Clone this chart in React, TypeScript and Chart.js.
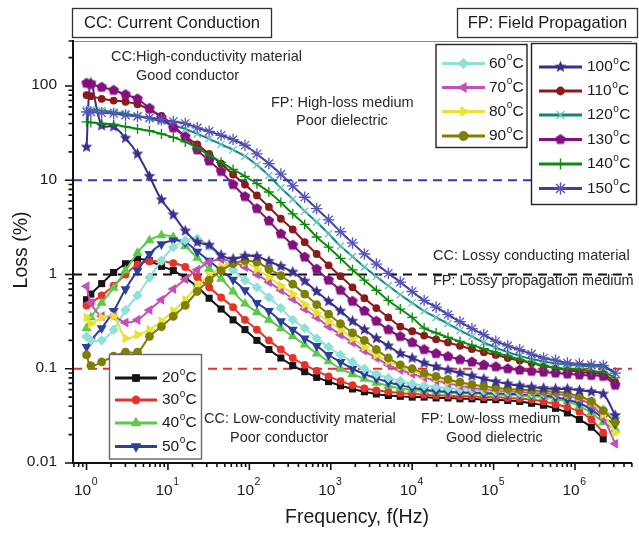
import React, { useEffect, useRef } from 'react';
import { Chart, registerables } from 'chart.js';
import { drawPoint } from 'chart.js/helpers';

Chart.register(...registerables);

// ---------------- data ----------------
const frequencyHz = [1, 1.13, 1.535, 2.153, 3.013, 4.227, 5.929, 8.318, 11.64, 16.33, 22.91, 32.06, 44.98, 63.1, 88.31, 123.9, 173.8, 243.8, 341.2, 478.6, 671.4, 939.7, 1318, 1849, 2588, 3631, 5093, 7145, 10000, 14030, 19680, 27540, 38640, 54200, 75860, 106400, 149300, 209400, 293100, 411100, 576800, 807200, 1132000, 1589000, 2223000, 3119000];

const temperaturesC = [20, 30, 40, 50, 60, 70, 80, 90, 100, 110, 120, 130, 140, 150];

const loss20C = [0.54, 0.62, 0.8, 1.05, 1.3, 1.46, 1.4, 1.22, 1.1, 0.92, 0.74, 0.56, 0.43, 0.33, 0.26, 0.2, 0.16, 0.13, 0.108, 0.093, 0.081, 0.073, 0.066, 0.061, 0.057, 0.054, 0.052, 0.051, 0.05, 0.05, 0.049, 0.049, 0.048, 0.048, 0.047, 0.047, 0.046, 0.045, 0.043, 0.041, 0.038, 0.034, 0.029, 0.024, 0.018];
const loss30C = [0.47, 0.5, 0.6, 0.76, 1.0, 1.27, 1.38, 1.38, 1.32, 1.2, 0.94, 0.73, 0.57, 0.45, 0.33, 0.26, 0.2, 0.16, 0.13, 0.11, 0.095, 0.083, 0.074, 0.067, 0.062, 0.059, 0.057, 0.055, 0.054, 0.053, 0.052, 0.052, 0.051, 0.051, 0.05, 0.05, 0.049, 0.048, 0.047, 0.045, 0.042, 0.039, 0.035, 0.029, 0.021];
const loss40C = [0.27, 0.35, 0.5, 0.72, 1.1, 1.7, 2.3, 2.6, 2.5, 2.0, 1.5, 1.15, 0.9, 0.66, 0.49, 0.4, 0.33, 0.27, 0.22, 0.18, 0.145, 0.12, 0.1, 0.088, 0.078, 0.071, 0.066, 0.062, 0.06, 0.058, 0.057, 0.056, 0.055, 0.055, 0.054, 0.053, 0.053, 0.052, 0.051, 0.05, 0.048, 0.045, 0.04, 0.034, 0.027, 0.023];
const loss50C = [0.17, 0.2, 0.27, 0.41, 0.7, 1.1, 1.65, 2.1, 2.3, 2.2, 1.75, 1.4, 1.1, 0.88, 0.68, 0.5, 0.41, 0.32, 0.26, 0.21, 0.175, 0.14, 0.118, 0.1, 0.088, 0.079, 0.072, 0.067, 0.063, 0.06, 0.058, 0.057, 0.056, 0.056, 0.055, 0.055, 0.054, 0.054, 0.053, 0.052, 0.05, 0.047, 0.043, 0.037, 0.03, 0.026];
const loss60C = [0.22, 0.2, 0.2, 0.26, 0.42, 0.6, 0.93, 1.4, 1.95, 2.3, 2.4, 2.0, 1.5, 1.12, 0.87, 0.73, 0.57, 0.44, 0.33, 0.27, 0.21, 0.17, 0.14, 0.118, 0.1, 0.088, 0.08, 0.074, 0.069, 0.066, 0.064, 0.062, 0.061, 0.06, 0.059, 0.058, 0.057, 0.056, 0.055, 0.055, 0.054, 0.053, 0.05, 0.045, 0.037, 0.03];
const loss70C = [0.75, 0.5, 0.36, 0.36, 0.31, 0.33, 0.42, 0.54, 0.7, 0.89, 1.12, 1.35, 1.45, 1.35, 1.2, 1.0, 0.83, 0.68, 0.55, 0.43, 0.35, 0.28, 0.23, 0.19, 0.155, 0.13, 0.11, 0.097, 0.088, 0.081, 0.075, 0.07, 0.066, 0.063, 0.061, 0.059, 0.058, 0.057, 0.056, 0.055, 0.054, 0.052, 0.048, 0.041, 0.03, 0.016];
const loss80C = [0.35, 0.3, 0.35, 0.36, 0.21, 0.23, 0.26, 0.32, 0.41, 0.54, 0.76, 0.97, 1.2, 1.35, 1.35, 1.14, 0.94, 0.76, 0.62, 0.48, 0.39, 0.32, 0.26, 0.21, 0.17, 0.14, 0.12, 0.105, 0.095, 0.086, 0.079, 0.073, 0.069, 0.066, 0.063, 0.061, 0.06, 0.059, 0.058, 0.057, 0.056, 0.054, 0.05, 0.044, 0.033, 0.021];
const loss90C = [0.14, 0.108, 0.118, 0.136, 0.15, 0.15, 0.22, 0.28, 0.36, 0.47, 0.66, 0.87, 1.1, 1.3, 1.4, 1.35, 1.14, 0.97, 0.79, 0.62, 0.48, 0.38, 0.3, 0.24, 0.2, 0.16, 0.13, 0.11, 0.1, 0.09, 0.083, 0.077, 0.072, 0.068, 0.065, 0.063, 0.061, 0.06, 0.059, 0.058, 0.057, 0.055, 0.051, 0.045, 0.036, 0.027];
const loss100C = [22.5, 108, 38, 37, 28, 19, 11, 6.2, 4.3, 2.9, 2.2, 2.05, 1.6, 1.46, 1.57, 1.55, 1.38, 1.22, 1.06, 0.85, 0.66, 0.52, 0.41, 0.32, 0.26, 0.21, 0.175, 0.145, 0.13, 0.115, 0.105, 0.097, 0.09, 0.084, 0.078, 0.073, 0.069, 0.066, 0.064, 0.062, 0.061, 0.061, 0.059, 0.057, 0.054, 0.032];
const loss110C = [80, 78, 73, 70, 68, 64, 56, 48, 38, 29, 24, 19, 15, 11.5, 9, 6.9, 5.2, 3.9, 3.0, 2.2, 1.65, 1.25, 0.96, 0.73, 0.56, 0.44, 0.35, 0.28, 0.25, 0.225, 0.205, 0.19, 0.175, 0.162, 0.15, 0.14, 0.13, 0.122, 0.115, 0.108, 0.102, 0.097, 0.093, 0.09, 0.088, 0.072];
const loss120C = [56, 56, 55, 53, 51, 48, 45, 42, 38, 35, 31, 27.5, 24, 21, 18, 14.5, 11.2, 8.3, 6.3, 4.7, 3.6, 2.7, 2.0, 1.55, 1.2, 0.95, 0.76, 0.61, 0.5, 0.41, 0.35, 0.3, 0.255, 0.22, 0.19, 0.168, 0.15, 0.137, 0.127, 0.12, 0.114, 0.11, 0.108, 0.106, 0.104, 0.09];
const loss130C = [107, 104, 97, 90, 81, 73, 58, 46, 36, 29, 21, 16, 12.4, 9, 6.7, 5, 3.7, 2.7, 2.05, 1.53, 1.14, 0.87, 0.68, 0.52, 0.41, 0.32, 0.26, 0.22, 0.19, 0.16, 0.145, 0.135, 0.125, 0.118, 0.11, 0.105, 0.1, 0.097, 0.094, 0.092, 0.09, 0.088, 0.086, 0.085, 0.083, 0.067];
const loss140C = [41.5, 41, 40, 39, 37, 35, 33.5, 31, 28.5, 25.5, 22, 18.5, 15.5, 13, 11, 9.2, 7.5, 5.8, 4.4, 3.4, 2.5, 1.95, 1.48, 1.12, 0.87, 0.68, 0.53, 0.43, 0.35, 0.27, 0.24, 0.215, 0.195, 0.178, 0.163, 0.148, 0.137, 0.125, 0.116, 0.107, 0.102, 0.1, 0.098, 0.094, 0.092, 0.08];
const loss150C = [53, 53, 52, 51, 49, 47.5, 46, 44, 42, 40, 36, 33, 30, 27, 23.5, 19, 15, 11.6, 8.7, 6.6, 5.0, 3.8, 2.84, 2.16, 1.65, 1.29, 1.03, 0.83, 0.66, 0.53, 0.45, 0.376, 0.315, 0.267, 0.23, 0.196, 0.175, 0.159, 0.143, 0.13, 0.123, 0.115, 0.113, 0.11, 0.108, 0.09];

const lossSeries = [loss20C, loss30C, loss40C, loss50C, loss60C, loss70C, loss80C, loss90C, loss100C, loss110C, loss120C, loss130C, loss140C, loss150C];

const referenceLevels = [10, 1, 0.1];
const yTickValues = [0.01, 0.1, 1, 10, 100];
const yTickLabels = ['0.01', '0.1', '1', '10', '100'];
const xTickValues = [1, 10, 100, 1000, 10000, 100000, 1000000];
const xTickExponents = ['0', '1', '2', '3', '4', '5', '6'];
const minorMantissas = [2, 3, 4, 5, 6, 7, 8, 9];

const X_MIN = 0.682;
const X_MAX = 5e6;
const Y_MIN = 0.01;
const Y_MAX = 300;

const FONT = '"Liberation Sans", Arial, Helvetica, sans-serif';

// ---------------- marker helpers ----------------
function polyCanvas(color: string, r: number, n: number, inner: number | null) {
  const size = Math.ceil(r * 2 + 2);
  const c = document.createElement('canvas');
  c.width = size;
  c.height = size;
  const g = c.getContext('2d')!;
  g.translate(size / 2, size / 2);
  g.beginPath();
  const count = inner ? n * 2 : n;
  for (let i = 0; i < count; i++) {
    const rad = inner ? (i % 2 === 0 ? r : r * inner) : r;
    const a = -Math.PI / 2 + (i * 2 * Math.PI) / count;
    const px = rad * Math.cos(a);
    const py = rad * Math.sin(a);
    if (i === 0) g.moveTo(px, py);
    else g.lineTo(px, py);
  }
  g.closePath();
  g.fillStyle = color;
  g.fill();
  return c;
}

type SeriesStyle = {
  color: string;
  marker: string;
  point: any;
  radius: number;
  rot: number;
  stroke: boolean;
};

function buildStyles(): SeriesStyle[] {
  const star = polyCanvas('#3a2e8e', 6.2, 5, 0.45);
  const penta = polyCanvas('#84107f', 5.6, 5, null);
  return [
    { color: '#141414', marker: '#141414', point: 'rect', radius: 5, rot: 0, stroke: false },
    { color: '#e5332a', marker: '#e5332a', point: 'circle', radius: 3.9, rot: 0, stroke: false },
    { color: '#5cc94a', marker: '#5cc94a', point: 'triangle', radius: 5.8, rot: 0, stroke: false },
    { color: '#2c3f9c', marker: '#2c3f9c', point: 'triangle', radius: 5.8, rot: 180, stroke: false },
    { color: '#8ee0d8', marker: '#8ee0d8', point: 'rectRot', radius: 5.2, rot: 0, stroke: false },
    { color: '#c24fbb', marker: '#c24fbb', point: 'triangle', radius: 5.8, rot: -90, stroke: false },
    { color: '#e8e233', marker: '#e8e233', point: 'triangle', radius: 5.8, rot: 90, stroke: false },
    { color: '#7f7f05', marker: '#7f7f05', point: 'circle', radius: 4.4, rot: 0, stroke: false },
    { color: '#3a2e8e', marker: '#3a2e8e', point: star, radius: 6, rot: 0, stroke: false },
    { color: '#8b1b1b', marker: '#8b1b1b', point: 'circle', radius: 3.9, rot: 0, stroke: false },
    { color: '#0a8585', marker: '#6cc0c0', point: 'crossRot', radius: 5, rot: 0, stroke: true },
    { color: '#84107f', marker: '#84107f', point: penta, radius: 5.5, rot: 0, stroke: false },
    { color: '#0b8a0b', marker: '#0b8a0b', point: 'cross', radius: 5, rot: 0, stroke: true },
    { color: '#3d3da3', marker: '#5555bb', point: 'star', radius: 5.8, rot: 0, stroke: true },
  ];
}

function drawDegLabel(ctx: CanvasRenderingContext2D, x: number, y: number, num: string) {
  ctx.fillStyle = '#1a1a1a';
  ctx.textAlign = 'left';
  ctx.textBaseline = 'middle';
  ctx.font = `15.5px ${FONT}`;
  ctx.fillText(num, x, y);
  let w = ctx.measureText(num).width;
  ctx.font = `10px ${FONT}`;
  ctx.fillText('o', x + w + 0.5, y - 6);
  w += ctx.measureText('o').width + 0.8;
  ctx.font = `15.5px ${FONT}`;
  ctx.fillText('C', x + w, y);
}

function drawLegendBox(
  ctx: CanvasRenderingContext2D,
  styles: SeriesStyle[],
  box: { x: number; y: number; w: number; h: number; border: string },
  idx: number[],
  rows: number[],
  lineX: [number, number],
  textX: number
) {
  ctx.save();
  ctx.fillStyle = '#ffffff';
  ctx.fillRect(box.x, box.y, box.w, box.h);
  ctx.strokeStyle = box.border;
  ctx.lineWidth = 1.4;
  ctx.strokeRect(box.x, box.y, box.w, box.h);
  idx.forEach((si, k) => {
    const s = styles[si];
    const y = rows[k];
    ctx.strokeStyle = s.color;
    ctx.lineWidth = 3;
    ctx.setLineDash([]);
    ctx.beginPath();
    ctx.moveTo(lineX[0], y);
    ctx.lineTo(lineX[1], y);
    ctx.stroke();
    ctx.fillStyle = s.marker;
    ctx.strokeStyle = s.marker;
    ctx.lineWidth = s.stroke ? 1.4 : 0;
    drawPoint(ctx, { pointStyle: s.point, rotation: s.rot, radius: s.radius + 0.5, borderWidth: s.stroke ? 1.4 : 0 } as any, (lineX[0] + lineX[1]) / 2, y);
    drawDegLabel(ctx, textX, y, String(temperaturesC[si]));
  });
  ctx.restore();
}

function makeOverlay(styles: SeriesStyle[]) {
  return {
    id: 'lossOverlay',
    afterDraw(chart: any) {
      const ctx: CanvasRenderingContext2D = chart.ctx;
      const ca = chart.chartArea;
      const xs = chart.scales.x;
      const ys = chart.scales.y;
      ctx.save();

      // top frame line
      ctx.strokeStyle = '#8a8a8a';
      ctx.lineWidth = 1.2;
      ctx.beginPath();
      ctx.moveTo(ca.left, ca.top + 0.5);
      ctx.lineTo(ca.right, ca.top + 0.5);
      ctx.stroke();

      // axes
      ctx.strokeStyle = '#111';
      ctx.lineWidth = 2;
      ctx.beginPath();
      ctx.moveTo(ca.left, ca.top - 1);
      ctx.lineTo(ca.left, ca.bottom + 1);
      ctx.moveTo(ca.left - 1, ca.bottom);
      ctx.lineTo(ca.right, ca.bottom);
      ctx.stroke();

      // y ticks
      ctx.lineWidth = 1.6;
      ctx.beginPath();
      yTickValues.forEach((v) => {
        const py = ys.getPixelForValue(v);
        ctx.moveTo(ca.left, py);
        ctx.lineTo(ca.left - 8, py);
        minorMantissas.forEach((m) => {
          const mv = v * m;
          if (mv <= Y_MAX * 1.0001) {
            const pm = ys.getPixelForValue(mv);
            ctx.moveTo(ca.left, pm);
            ctx.lineTo(ca.left - 4.5, pm);
          }
        });
      });
      // x ticks
      const xDecades = [0.1, ...xTickValues];
      xDecades.forEach((v) => {
        if (v >= X_MIN) {
          const px = xs.getPixelForValue(v);
          ctx.moveTo(px, ca.bottom);
          ctx.lineTo(px, ca.bottom + 7);
        }
        minorMantissas.forEach((m) => {
          const mv = v * m;
          if (mv >= X_MIN && mv <= X_MAX) {
            const pm = xs.getPixelForValue(mv);
            ctx.moveTo(pm, ca.bottom);
            ctx.lineTo(pm, ca.bottom + 4);
          }
        });
      });
      ctx.stroke();

      // y tick labels
      ctx.fillStyle = '#1a1a1a';
      ctx.font = `15.5px ${FONT}`;
      ctx.textAlign = 'right';
      ctx.textBaseline = 'middle';
      yTickValues.forEach((v, i) => {
        ctx.fillText(yTickLabels[i], ca.left - 16, ys.getPixelForValue(v) - 1);
      });

      // x tick labels
      xTickValues.forEach((v, i) => {
        const px = xs.getPixelForValue(v);
        ctx.font = `15.5px ${FONT}`;
        const w1 = ctx.measureText('10').width;
        ctx.font = `10.5px ${FONT}`;
        const w2 = ctx.measureText(xTickExponents[i]).width;
        const start = px - (w1 + w2) / 2 - 1;
        ctx.textAlign = 'left';
        ctx.textBaseline = 'alphabetic';
        ctx.font = `15.5px ${FONT}`;
        ctx.fillText('10', start, 495);
        ctx.font = `10.5px ${FONT}`;
        ctx.fillText(xTickExponents[i], start + w1 + 0.5, 485);
      });

      // axis titles
      ctx.font = `19.5px ${FONT}`;
      ctx.textAlign = 'center';
      ctx.textBaseline = 'middle';
      ctx.fillText('Frequency, f(Hz)', 357, 518);
      ctx.save();
      ctx.translate(22, 250);
      ctx.rotate(-Math.PI / 2);
      ctx.fillText('Loss (%)', 0, 0);
      ctx.restore();

      // annotations
      ctx.fillStyle = '#2a2a2a';
      ctx.font = `14.5px ${FONT}`;
      ctx.textAlign = 'left';
      ctx.textBaseline = 'middle';
      const notes: [string, number, number][] = [
        ['CC:High-conductivity material', 111, 57],
        ['Good conductor', 136, 76],
        ['FP: High-loss medium', 271, 103],
        ['Poor dielectric', 296, 121],
        ['CC: Lossy conducting material', 433, 256],
        ['FP: Lossy propagation medium', 433, 281],
        ['CC: Low-conductivity material', 204, 419],
        ['Poor conductor', 230, 438],
        ['FP: Low-loss medium', 421, 419],
        ['Good dielectric', 446, 438],
      ];
      notes.forEach(([t, x, y]) => ctx.fillText(t, x, y));

      // title boxes
      const titleBox = (t: string, x: number, y: number, w: number, h: number) => {
        ctx.fillStyle = '#fff';
        ctx.fillRect(x, y, w, h);
        ctx.strokeStyle = '#333';
        ctx.lineWidth = 1.3;
        ctx.strokeRect(x, y, w, h);
        ctx.fillStyle = '#1a1a1a';
        ctx.font = `16.5px ${FONT}`;
        ctx.textAlign = 'center';
        ctx.textBaseline = 'middle';
        ctx.fillText(t, x + w / 2, y + h / 2 + 0.5);
      };
      titleBox('CC: Current Conduction', 72.5, 8.5, 199, 29);
      titleBox('FP: Field Propagation', 457.5, 8.5, 180, 29);

      // legends
      drawLegendBox(ctx, styles, { x: 436, y: 44.5, w: 91, h: 103, border: '#222' }, [4, 5, 6, 7], [63.5, 87.5, 111.5, 136], [442, 485], 489);
      drawLegendBox(ctx, styles, { x: 531.5, y: 43.5, w: 105, h: 161, border: '#222' }, [8, 9, 10, 11, 12, 13], [67, 91, 115, 139.5, 164, 188.5], [539, 582], 587);
      drawLegendBox(ctx, styles, { x: 109.5, y: 354.5, w: 92, h: 104.5, border: '#666' }, [0, 1, 2, 3], [378, 400, 423, 446.5], [115, 157], 162);

      ctx.restore();
    },
  };
}

export default function App() {
  const canvasRef = useRef<HTMLCanvasElement | null>(null);

  useEffect(() => {
    document.body.style.margin = '0';
    const canvas = canvasRef.current;
    if (!canvas) return;
    const styles = buildStyles();

    const refColors = ['#2b3fa8', '#111111', '#e3302a'];
    const refSets = referenceLevels.map((lvl, i) => ({
      data: [
        { x: X_MIN, y: lvl },
        { x: X_MAX, y: lvl },
      ],
      borderColor: refColors[i],
      borderWidth: 2,
      borderDash: [9, 6],
      pointRadius: 0,
      tension: 0,
      order: 50,
    }));

    const seriesSets = lossSeries.map((vals, si) => {
      const s = styles[si];
      return {
        label: `${temperaturesC[si]}°C`,
        data: vals.map((v, i) => ({ x: frequencyHz[i], y: v })),
        borderColor: s.color,
        backgroundColor: s.marker,
        borderWidth: 2,
        tension: 0.35,
        pointStyle: s.point,
        pointRadius: s.radius,
        pointRotation: s.rot,
        pointBackgroundColor: s.marker,
        pointBorderColor: s.marker,
        pointBorderWidth: s.stroke ? 1.3 : 0,
        pointHoverRadius: s.radius,
        order: 20 - si,
      };
    });

    const chart = new Chart(canvas, {
      type: 'line',
      data: { datasets: [...seriesSets, ...refSets] as any },
      options: {
        animation: false,
        responsive: false,
        maintainAspectRatio: false,
        events: [],
        layout: { padding: { top: 41, right: 0, left: 0, bottom: 0 } },
        scales: {
          x: {
            type: 'logarithmic',
            min: X_MIN,
            max: X_MAX,
            grid: { display: false, drawTicks: false },
            border: { display: false },
            ticks: { display: false },
            afterFit: (s: any) => {
              s.height = 70;
            },
          },
          y: {
            type: 'logarithmic',
            min: Y_MIN,
            max: Y_MAX,
            grid: { display: false, drawTicks: false },
            border: { display: false },
            ticks: { display: false },
            afterFit: (s: any) => {
              s.width = 73;
            },
          },
        },
        plugins: {
          legend: { display: false },
          tooltip: { enabled: false },
          title: { display: false },
        },
      } as any,
      plugins: [makeOverlay(styles)],
    });

    return () => {
      chart.destroy();
    };
  }, []);

  return (
    <div style={{ width: 639, height: 533, background: '#fff' }}>
      <canvas ref={canvasRef} width={639} height={533} style={{ display: 'block', width: 639, height: 533 }} />
    </div>
  );
}
